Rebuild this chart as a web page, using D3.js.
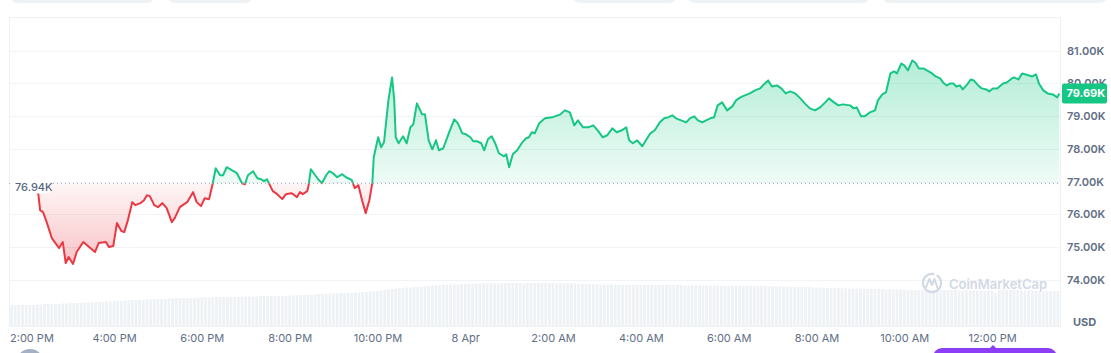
<!DOCTYPE html>
<html><head><meta charset="utf-8">
<script src="https://cdn.jsdelivr.net/npm/d3@7"></script>
<style>
html,body{margin:0;padding:0;background:#fff;overflow:hidden}
svg{display:block;font-family:Inter,"Noto Sans",sans-serif}
</style></head><body>
<svg id="chart" width="1111" height="353"></svg>
<script>
// ---- DATA ----
// minutes after 2:00 PM, 7 Apr
const minutes = [
15,19,23,28,35,39,45,50,54,58,64,69,78,86,94,99,109,113,119,124,
130,134,139,145,149,156,161,165,169,175,180,186,192,199,203,210,220,228,233,239,
244,250,255,259,265,269,274,281,288,295,299,303,310,316,321,325,329,333,337,343,
350,355,362,365,370,374,378,384,386,389,395,399,404,410,414,419,425,432,437,443,
445,449,454,459,464,469,473,475,481,485,489,495,500,503,505,509,515,520,525,529,
534,541,545,550,555,560,564,570,578,585,590,596,601,607,611,616,622,626,631,636,
641,646,653,656,660,665,671,678,683,687,691,695,701,
709,719,730,736,743,749,754,761,768,775,781,788,794,801,807,814,820,824,829,835,
842,847,853,859,866,872,877,883,888,895,902,907,913,918,924,929,935,940,945,951,
958,965,970,976,982,989,996,1003,1008,1014,1019,1026,1032,1038,1044,1051,1058,1064,1071,1078,
1085,1092,1097,1104,1110,1116,
1126,1131,1135,1141,1146,1153,1160,1164,1170,1175,1181,1186,1190,1196,1200,1205,1211,1215,1220,1226,
1231,1238,1243,1249,1253,1258,1263,1267,1271,1276,1280,1286,1291,1295,1301,1306,1312,1316,1321,1327,
1335,1340,1347,1350,1356,1361,1366,1375,1380,1384,1390,1396,1403,1409,1412
];
// BTC price, USD
const prices = [
76940,76131,76070,75766,75279,75157,74975,75157,74518,74701,74488,74853,75157,75005,74853,75127,75157,75005,75036,75736,
75492,75462,75827,76375,76283,76344,76435,76588,76557,76283,76222,76344,76192,75766,75888,76222,76375,76679,76375,76253,
76496,76466,76953,77409,77196,77196,77440,77348,77257,76953,76922,77196,77318,77105,77074,77014,77074,76892,76709,76618,
76466,76618,76648,76618,76527,76679,76618,76709,76892,77379,77196,77074,76953,77196,77318,77257,77135,77227,77135,77074,
77044,76801,76892,76435,76040,76435,76953,77744,78353,78048,78200,79478,80178,79478,78353,78170,78383,78170,78657,78748,
79387,79052,79052,78261,77987,78261,77957,78018,78505,78900,78779,78474,78444,78353,78231,78231,78170,77957,78292,78383,
78170,77866,77774,77835,77440,77835,77957,78200,78322,78353,78505,78474,78779,
78931,78961,79052,79174,79113,78718,78870,78657,78657,78718,78566,78353,78414,78626,78505,78566,78657,78261,78170,78261,
78079,78261,78474,78566,78809,78931,78961,79022,78931,78870,78809,78931,78992,78870,78809,78870,78931,78961,79326,79418,
79174,79296,79478,79570,79631,79691,79783,79844,79965,80087,79904,79935,79844,79691,79752,79691,79539,79387,79235,79174,
79265,79418,79539,79418,79326,79357,
79326,79235,79265,78992,78992,79113,79174,79478,79661,79722,80300,80361,80300,80604,80544,80391,80696,80635,80452,80452,
80391,80300,80209,80148,80026,79935,79996,79996,79904,79935,79813,79965,80117,80087,79935,79844,79813,79752,79844,79844,
79996,80026,80148,80178,80117,80300,80270,80209,80270,79996,79783,79691,79661,79570,79690
];
// 5-minute volume bars, first bar at 1:40 PM (relative units)
const volumeStartMinute = -20;
const volumes = [
21,21,21,21,21,21,21,21.5,21.5,22,22,22,
22,22,22.5,22.5,23,23,23,23,23.5,23.5,24,24,
24,24,24.5,24.5,25,25,25,25.5,25.5,26,26,26,
26,26.5,26.5,27,27,27,27,27.5,27.5,28,28,28,
28,28,28,28.5,28.5,28.5,28.5,29,29,29,29,29,
29,29,29,29.5,29.5,29.5,29.5,29.5,30,30,30,30,
30,30,30,30,30.5,30.5,30.5,31,31,31,31,31.5,
32,32,32,32.5,32.5,32.5,33,33,33,33,33.5,33.5,
34,34,34.5,34.5,35,35.5,36,36.5,37,37.5,38,38,
38.5,38.5,39,39,39.5,40,40,40.5,40.5,41,41,41,
41.5,41.5,41.5,42,42,42,42,42.5,42.5,42.5,42.5,42.5,
42.5,42.5,43,43,43,43,43,43,42.5,43,43,43,
43,43,43,43,43,42.5,42.5,42.5,42.5,42.5,42.5,42,
42,42,42,42,41.5,41.5,41.5,41.5,41.5,41.5,41,41,
41,41,41,41,41,41,41,41,41,41,41,41,
41,41,41,41,40.5,40.5,40.5,40.5,40.5,40.5,40.5,40.5,
40.5,40.5,40,40,40,40,40,40,40,40,40,40,
40,40,40,39.5,39.5,39.5,39.5,39.5,39.5,39,39,39,
39,39,39,38.5,38.5,38.5,38.5,38,38,38,38,38,
37.5,37.5,37.5,37.5,37.5,37,37,37,37,37,37,36.5,
36.5,36.5,36.5,36.5,36.5,36,36,36,36,36,36,36,
36,36,36,36,36,36,36,35.5,35.5,35.5,35.5,35.5,
35.5,35.5,35.5,35.5,35.5,33,36,36,36,36,36,36,
35.5,35.5,35.5,35.5,35,35,35,35,35,35,35
];
const yTicks = [74000,75000,76000,77000,78000,79000,80000,81000];
const baseline = 76940;
const baselineLabel = "76.94K";
const lastPrice = 79690;
const lastLabel = "79.69K";
const currency = "USD";

// ---- CHART ----
const T0 = Date.UTC(2025,3,7,14,0);
const svg = d3.select("#chart");
const L = 9, R = 1061, TOP = 17, BOT = 326;
const GREEN = "#16c784", RED = "#ea3943";

const x = d3.scaleUtc()
  .domain([new Date(T0 - 23.5*60000), new Date(T0 + 1414.2*60000)])
  .range([L, R]);
const y = d3.scaleLinear().domain([74000, 81000]).range([280, 50.5]);
const yv = d3.scaleLinear().domain([0, 100]).range([BOT, BOT - 100]);

const data = minutes.map((m,i)=>({t:new Date(T0 + m*60000), p:prices[i]}));
const vdata = volumes.map((v,i)=>({t:new Date(T0 + (volumeStartMinute + i*5)*60000), v}));

const defs = svg.append("defs");
const gg = defs.append("linearGradient").attr("id","gGreen").attr("gradientUnits","userSpaceOnUse")
  .attr("x1",0).attr("x2",0).attr("y1",y(80700)).attr("y2",y(baseline));
gg.append("stop").attr("offset","0%").attr("stop-color",GREEN).attr("stop-opacity",0.32);
gg.append("stop").attr("offset","100%").attr("stop-color",GREEN).attr("stop-opacity",0.07);
const gr = defs.append("linearGradient").attr("id","gRed").attr("gradientUnits","userSpaceOnUse")
  .attr("x1",0).attr("x2",0).attr("y1",y(baseline)).attr("y2",y(74500));
gr.append("stop").attr("offset","0%").attr("stop-color",RED).attr("stop-opacity",0.05);
gr.append("stop").attr("offset","100%").attr("stop-color",RED).attr("stop-opacity",0.3);
defs.append("clipPath").attr("id","cAbove").append("rect")
  .attr("x",0).attr("y",0).attr("width",1111).attr("height",y(baseline));
defs.append("clipPath").attr("id","cBelow").append("rect")
  .attr("x",0).attr("y",y(baseline)).attr("width",1111).attr("height",353-y(baseline));

// top tab pills (partially visible)
[[10,145],[167,86],[572,105],[687,183],[882,226]].forEach(([px,w])=>{
  svg.append("rect").attr("x",px).attr("y",-20).attr("width",w).attr("height",23)
    .attr("rx",8).attr("fill","#eff2f5");
});

// frame
svg.append("rect").attr("x",L+0.5).attr("y",TOP+0.5).attr("width",R-L-1).attr("height",BOT-TOP)
  .attr("fill","none").attr("stroke","#eff2f5").attr("stroke-width",1);

// gridlines
svg.append("g").selectAll("line").data(yTicks).join("line")
  .attr("x1",L).attr("x2",R).attr("y1",d=>Math.round(y(d))+0.5).attr("y2",d=>Math.round(y(d))+0.5)
  .attr("stroke","#f1f3f6").attr("stroke-width",1);

// volume bars
svg.append("g").selectAll("rect").data(vdata).join("rect")
  .attr("x",d=>x(d.t)-1.4).attr("width",2.8)
  .attr("y",d=>yv(d.v)).attr("height",d=>BOT-yv(d.v))
  .attr("fill","#eff2f5");

// watermark
const wm = svg.append("g").attr("fill","none").attr("stroke","#d3d9e4");
wm.append("path").attr("d", d3.arc()({innerRadius:8,outerRadius:10.2,startAngle:0.55,endAngle:2*Math.PI+0.25}))
  .attr("transform","translate(932,283)").attr("fill","#d3d9e4").attr("stroke","none");
wm.append("path").attr("d","M926,287 L929.5,279 L932,285 L934.5,279 L937.5,288").attr("stroke-width",2)
  .attr("stroke-linejoin","round").attr("stroke-linecap","round");
svg.append("text").attr("x",949).attr("y",289).attr("font-size",13.4).attr("font-weight",600)
  .attr("fill","#d3d9e4").attr("textLength",98).attr("lengthAdjust","spacingAndGlyphs").text("CoinMarketCap");

// areas
const area = d3.area().x(d=>x(d.t)).y0(y(baseline)).y1(d=>y(d.p));
const line = d3.line().x(d=>x(d.t)).y(d=>y(d.p));
svg.append("path").datum(data).attr("d",area).attr("fill","url(#gGreen)").attr("clip-path","url(#cAbove)");
svg.append("path").datum(data).attr("d",area).attr("fill","url(#gRed)").attr("clip-path","url(#cBelow)");

// baseline dotted
svg.append("line").attr("x1",L).attr("x2",R).attr("y1",y(baseline)).attr("y2",y(baseline))
  .attr("stroke","#a1a7bb").attr("stroke-width",1).attr("stroke-dasharray","1,3");

// lines
svg.append("path").datum(data).attr("d",line).attr("fill","none").attr("stroke",GREEN)
  .attr("stroke-width",2).attr("stroke-linejoin","round").attr("clip-path","url(#cAbove)");
svg.append("path").datum(data).attr("d",line).attr("fill","none").attr("stroke",RED)
  .attr("stroke-width",2).attr("stroke-linejoin","round").attr("clip-path","url(#cBelow)");

// baseline label
svg.append("rect").attr("x",10).attr("y",y(baseline)-6).attr("width",41).attr("height",16).attr("rx",4).attr("fill","#fff");
svg.append("text").attr("x",15).attr("y",y(baseline)+7).attr("font-size",11).attr("font-weight",500)
  .attr("fill","#58667e").text(baselineLabel);

// right axis
const ya = d3.axisRight(y).tickValues(yTicks).tickSize(0).tickPadding(0)
  .tickFormat(d=>(d/1000).toFixed(2)+"K");
const yg = svg.append("g").attr("transform","translate(1067,0)").call(ya);
yg.select(".domain").remove();
yg.selectAll("text").attr("font-family","Inter,'Noto Sans',sans-serif").attr("font-size",11)
  .attr("font-weight",600).attr("fill","#616e85");
svg.append("text").attr("x",1073).attr("y",326).attr("font-size",11).attr("font-weight",700)
  .attr("fill","#616e85").text(currency);

// current price tag (drawn over the nearest axis label, as in the original)
svg.append("rect").attr("x",1062).attr("y",y(lastPrice)-10).attr("width",45).attr("height",20)
  .attr("rx",2).attr("fill",GREEN);
svg.append("text").attr("x",1066.5).attr("y",y(lastPrice)+4).attr("font-size",11).attr("font-weight",700)
  .attr("fill","#fff").text(lastLabel);

// bottom axis
const fmt = d=> d.getUTCHours()===0 ? d3.utcFormat("%-d %b")(d) : d3.utcFormat("%-I:%M %p")(d);
const xa = d3.axisBottom(x).ticks(d3.utcHour.every(2)).tickSize(0).tickPadding(0).tickFormat(fmt);
const xg = svg.append("g").attr("transform","translate(0,334)").call(xa);
xg.select(".domain").remove();
xg.selectAll("text").attr("font-family","Inter,'Noto Sans',sans-serif").attr("font-size",11)
  .attr("fill","#616e85").attr("dy","0.71em");
xg.selectAll(".tick").each(function(){
  const t = d3.select(this).select("text");
  const w = t.node().getComputedTextLength();
  const tr = d3.select(this).attr("transform");
  const tx = +/translate\(([-\d.]+)/.exec(tr)[1];
  if (tx - w/2 < 10) t.attr("x", 10 - tx + w/2);
});

// bottom decorations (partially visible controls)
svg.append("circle").attr("cx",30).attr("cy",363).attr("r",14).attr("fill","#a6b0c3");
svg.append("rect").attr("x",933).attr("y",348).attr("width",124).attr("height",30).attr("rx",9).attr("fill","#8c3ef7");
svg.append("path").attr("d","M989,349 L993,345 L997,349 Z").attr("fill","#8c3ef7");
</script>
</body></html>
